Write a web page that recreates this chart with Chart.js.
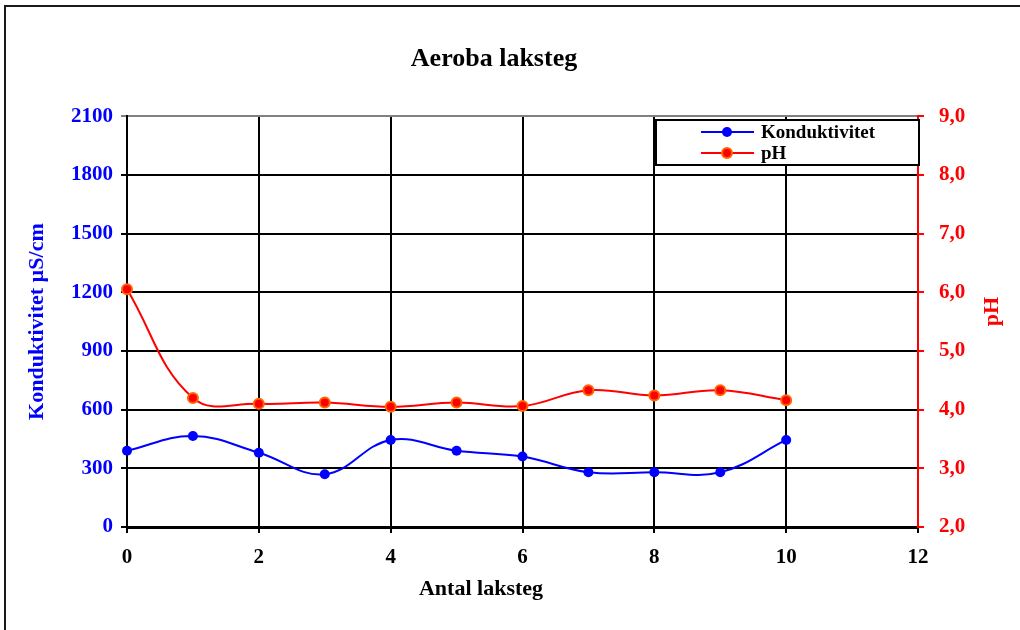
<!DOCTYPE html>
<html>
<head>
<meta charset="utf-8">
<title>Aeroba laksteg</title>
<script src="https://cdn.jsdelivr.net/npm/chart.js@4.4.1/dist/chart.umd.min.js"></script>
<style>
	body { margin: 0; background: #FFFFFF; }
	#wrap { width: 1020px; height: 630px; }
</style>
</head>
<body>
<div id="wrap"><canvas id="chart" width="1020" height="630"></canvas></div>
<script>
// Antal laksteg
const steps = [0, 1, 2, 3, 4, 5, 6, 7, 8, 9, 10]
// Konduktivitet in uS/cm, left axis
const konduktivitet = [390, 465, 380, 270, 445, 390, 360, 280, 280, 280, 445]
// pH, right axis
const ph = [6.05, 4.2, 4.1, 4.12, 4.05, 4.12, 4.06, 4.33, 4.24, 4.33, 4.16]

const chartTitle = "Aeroba laksteg"
const xTitle = "Antal laksteg"
const leftTitle = "Konduktivitet µS/cm"
const rightTitle = "pH"
const seriesNames = ["Konduktivitet", "pH"]

const serif = "'Liberation Serif', 'Times New Roman', serif"

function toPoints(values) {
	return steps.map((s, i) => ({ x: s, y: values[i] }))
}

// Outer frame of the picture
const framePlugin = {
	id: "frame",
	beforeDraw(chart) {
		let ctx = chart.ctx
		ctx.save()
		ctx.fillStyle = "#FFFFFF"
		ctx.fillRect(0, 0, chart.width, chart.height)
		ctx.strokeStyle = "#1A1A1A"
		ctx.lineWidth = 2
		ctx.strokeRect(5, 6, 1100, 700)
		ctx.restore()
	}
}

// pH title reads bottom to top like the left one, and the x title sits left of centre
const axisTitlesPlugin = {
	id: "axisTitles",
	afterDraw(chart) {
		let ctx = chart.ctx
		let area = chart.chartArea
		ctx.save()
		ctx.font = "bold 22px " + serif
		ctx.textAlign = "center"
		ctx.textBaseline = "middle"

		ctx.fillStyle = "#000000"
		ctx.fillText(xTitle, 481, 589)

		ctx.translate(992, (area.top + area.bottom) / 2 - 10)
		ctx.rotate(-Math.PI / 2)
		ctx.fillStyle = "#FF0000"
		ctx.fillText(rightTitle, 0, 0)
		ctx.restore()
	}
}

// Boxed legend in the upper right of the plot
const legendBoxPlugin = {
	id: "legendBox",
	afterDatasetsDraw(chart) {
		let ctx = chart.ctx
		let right = chart.chartArea.right + 1
		let left = 656
		let top = 120
		let bottom = 165
		ctx.save()
		ctx.fillStyle = "#FFFFFF"
		ctx.fillRect(left, top, right - left, bottom - top)
		ctx.strokeStyle = "#000000"
		ctx.lineWidth = 2
		ctx.strokeRect(left, top, right - left, bottom - top)

		let rows = [132, 153]
		chart.data.datasets.forEach((ds, i) => {
			let y = rows[i]
			ctx.strokeStyle = ds.borderColor
			ctx.lineWidth = 2
			ctx.beginPath()
			ctx.moveTo(701, y)
			ctx.lineTo(754, y)
			ctx.stroke()
			ctx.beginPath()
			ctx.arc(727, y, ds.pointRadius, 0, Math.PI * 2)
			ctx.fillStyle = ds.pointBackgroundColor
			ctx.fill()
			if(ds.pointBorderWidth > 0) {
				ctx.lineWidth = ds.pointBorderWidth
				ctx.strokeStyle = ds.pointBorderColor
				ctx.stroke()
			}
			ctx.fillStyle = "#000000"
			ctx.font = "bold 19px " + serif
			ctx.textAlign = "left"
			ctx.textBaseline = "middle"
			ctx.fillText(ds.label, 761, y + 1)
		})
		ctx.restore()
	}
}

let tickFont = { family: serif, size: 21, weight: "bold" }
let titleFont = { family: serif, size: 22, weight: "bold" }

let chart = new Chart(document.getElementById("chart"), {
	type: "line",
	data: {
		datasets: [{
			label: seriesNames[0],
			data: toPoints(konduktivitet),
			yAxisID: "y",
			borderColor: "#0000FF",
			borderWidth: 2,
			pointRadius: 5,
			pointBackgroundColor: "#0000FF",
			pointBorderColor: "#0000FF",
			pointBorderWidth: 0,
			tension: 0.4,
			clip: false
		}, {
			label: seriesNames[1],
			data: toPoints(ph),
			yAxisID: "y1",
			borderColor: "#FF0000",
			borderWidth: 2,
			pointRadius: 5,
			pointBackgroundColor: "#FF0000",
			pointBorderColor: "#FF6600",
			pointBorderWidth: 2,
			tension: 0.4,
			clip: false
		}]
	},
	options: {
		responsive: false,
		animation: false,
		devicePixelRatio: 1,
		// right padding pulls the title centre left, as in the original
		layout: { padding: { left: 0, right: 32, top: 0, bottom: 0 } },
		plugins: {
			legend: { display: false },
			tooltip: { enabled: false },
			title: {
				display: true,
				text: chartTitle,
				color: "#000000",
				font: { family: serif, size: 26, weight: "bold" },
				padding: { top: 44, bottom: 41 }
			}
		},
		scales: {
			x: {
				type: "linear",
				min: 0,
				max: 12,
				afterFit: (s) => { s.height = 103 },
				ticks: {
					stepSize: 2,
					color: "#000000",
					padding: 12,
					font: tickFont
				},
				grid: { color: "#000000", lineWidth: 2, tickLength: 6 },
				border: { color: "#000000", width: 3 }
			},
			y: {
				position: "left",
				min: 0,
				max: 2100,
				afterFit: (s) => { s.width = 127 },
				ticks: {
					stepSize: 300,
					color: "#0000FF",
					padding: 8,
					font: tickFont,
					callback: (v) => String(v)
				},
				grid: {
					color: (c) => c.tick && c.tick.value === 2100 ? "#808080" : "#000000",
					lineWidth: 2,
					tickLength: 6
				},
				border: { color: "#000000", width: 2 },
				title: {
					display: true,
					text: leftTitle,
					color: "#0000FF",
					font: titleFont,
					padding: { top: 24, bottom: 0 }
				}
			},
			y1: {
				position: "right",
				min: 2,
				max: 9,
				afterFit: (s) => { s.width = 70 },
				ticks: {
					stepSize: 1,
					color: "#FF0000",
					padding: 15,
					font: tickFont,
					callback: (v) => v.toFixed(1).replace(".", ",")
				},
				grid: { drawOnChartArea: false, color: "#FF0000", lineWidth: 2, tickLength: 6 },
				border: { color: "#FF0000", width: 2 }
			}
		}
	},
	plugins: [framePlugin, legendBoxPlugin, axisTitlesPlugin]
})
</script>
</body>
</html>
